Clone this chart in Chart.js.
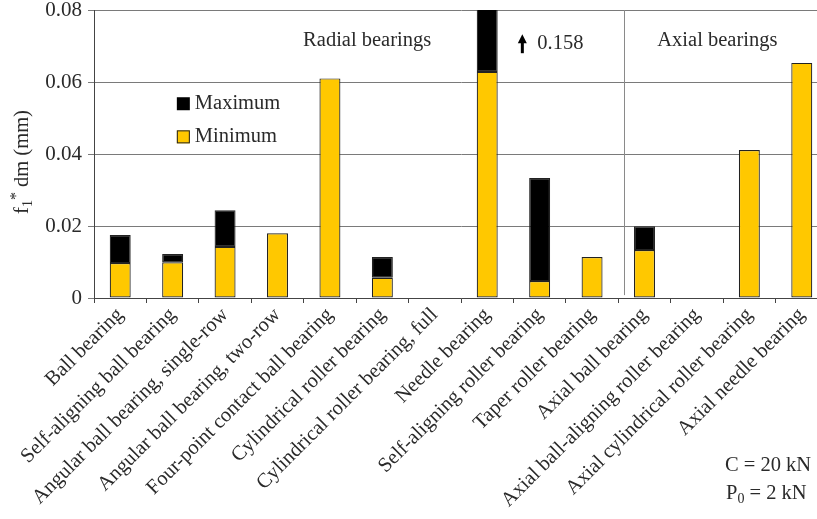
<!DOCTYPE html>
<html>
<head>
<meta charset="utf-8">
<script src="https://cdn.jsdelivr.net/npm/chart.js@4"></script>
<style>
  html, body { margin: 0; padding: 0; background: #fff; overflow: hidden; }
  #wrap { width: 817px; height: 519px; overflow: hidden; }
  canvas { display: block; }
</style>
</head>
<body>
<div id="wrap"><canvas id="c" width="828" height="519"></canvas></div>
<script>
// Bearing types
const categories = [
  'Ball bearing',
  'Self-aligning ball bearing',
  'Angular ball bearing, single-row',
  'Angular ball bearing, two-row',
  'Four-point contact ball bearing',
  'Cylindrical roller bearing',
  'Cylindrical roller bearing, full',
  'Needle bearing',
  'Self-aligning roller bearing',
  'Taper roller bearing',
  'Axial ball bearing',
  'Axial ball-aligning roller bearing',
  'Axial cylindrical roller bearing',
  'Axial needle bearing'
];
// f1* dm in mm (null = no value)
const minimum = [0.0097, 0.0099, 0.0142, 0.0180, 0.0610, 0.0056, null, 0.0628, 0.0047, 0.0114, 0.0133, null, 0.0411, 0.0653];
const maximum = [0.0175, 0.0122, 0.0244, null, null, 0.0114, null, 0.158, 0.0333, null, 0.0199, null, null, null];
const yTicks = [0, 0.02, 0.04, 0.06, 0.08];

const YELLOW = '#FFC800';
const EDGE = '#222222';
const TEXT = '#2a2a2a';
const SERIF = '"Liberation Serif", "DejaVu Serif", serif';
const FS = 20.5;

// Max segment drawn as a floating bar from the minimum up to the maximum
const maxRanges = maximum.map((m, i) => (m == null ? null : [minimum[i], m]));

const overlay = {
  id: 'overlay',
  afterDatasetsDraw(chart) {
    const { ctx, chartArea, scales } = chart;
    const x = scales.x, y = scales.y;
    ctx.save();
    // divider between radial and axial groups
    const xd = Math.round(x.getPixelForValue(9.61)) + 0.5;
    ctx.strokeStyle = '#8a8a8a';
    ctx.lineWidth = 1;
    ctx.beginPath();
    ctx.moveTo(xd, chartArea.top);
    ctx.lineTo(xd, y.getPixelForValue(0.0008));
    ctx.stroke();

    ctx.fillStyle = TEXT;
    ctx.font = FS + 'px ' + SERIF;
    ctx.textBaseline = 'middle';
    ctx.textAlign = 'center';
    ctx.fillText('Radial bearings', x.getPixelForValue(4.71), y.getPixelForValue(0.0716));
    ctx.fillText('Axial bearings', x.getPixelForValue(11.39), y.getPixelForValue(0.0716));

    // arrow for the clipped needle bearing maximum
    const ax = x.getPixelForValue(7.67), ay = y.getPixelForValue(0.0705);
    ctx.fillStyle = '#000';
    ctx.beginPath();
    ctx.moveTo(ax, ay - 10);
    ctx.lineTo(ax - 4.5, ay - 1);
    ctx.lineTo(ax + 4.5, ay - 1);
    ctx.closePath();
    ctx.fill();
    ctx.fillRect(ax - 1.5, ay - 2, 3, 11);
    ctx.fillStyle = TEXT;
    ctx.textAlign = 'left';
    ctx.fillText(String(maximum[7]), ax + 15, y.getPixelForValue(0.0706));

    // legend
    const lx = x.getPixelForValue(1.08), l1 = y.getPixelForValue(0.0541), l2 = y.getPixelForValue(0.0449);
    ctx.fillStyle = '#000';
    ctx.fillRect(lx, l1 - 6, 13, 13);
    ctx.fillStyle = YELLOW;
    ctx.fillRect(lx, l2 - 6, 13, 13);
    ctx.strokeStyle = EDGE;
    ctx.strokeRect(lx + 0.5, l2 - 5.5, 12, 12);
    ctx.fillStyle = TEXT;
    ctx.fillText('Maximum', lx + 18, l1);
    ctx.fillText('Minimum', lx + 18, l2);

    // y axis title: f1* dm (mm)
    ctx.translate(23, (chartArea.top + chartArea.bottom) / 2 + 8);
    ctx.rotate(-Math.PI / 2);
    ctx.textAlign = 'left';
    const parts = [['f', FS, 0], ['1', 14, 5], ['*', 16, -6], [' dm (mm)', FS, 0]];
    let total = 0;
    parts.forEach(p => { ctx.font = p[1] + 'px ' + SERIF; total += ctx.measureText(p[0]).width; });
    let px = -total / 2;
    parts.forEach(p => {
      ctx.font = p[1] + 'px ' + SERIF;
      ctx.fillText(p[0], px, p[2]);
      px += ctx.measureText(p[0]).width;
    });
    ctx.restore();

    // load notes, bottom right
    ctx.save();
    ctx.fillStyle = TEXT;
    ctx.textBaseline = 'middle';
    ctx.textAlign = 'left';
    ctx.font = FS + 'px ' + SERIF;
    const nx = 725;
    ctx.fillText('C = 20 kN', nx, 466);
    ctx.fillText('P', nx + 1, 494);
    let w = ctx.measureText('P').width;
    ctx.font = '14px ' + SERIF;
    ctx.fillText('0', nx + 1 + w, 499);
    w += ctx.measureText('0').width;
    ctx.font = FS + 'px ' + SERIF;
    ctx.fillText(' = 2 kN', nx + 1 + w, 494);
    ctx.restore();
  }
};

new Chart(document.getElementById('c'), {
  type: 'bar',
  data: {
    labels: categories,
    datasets: [
      {
        label: 'Minimum',
        data: minimum,
        backgroundColor: YELLOW,
        borderColor: EDGE,
        borderWidth: 1.2,
        borderSkipped: false,
        barPercentage: 0.4,
        categoryPercentage: 1,
        order: 2
      },
      {
        label: 'Maximum',
        data: maxRanges,
        backgroundColor: '#000000',
        borderColor: EDGE,
        borderWidth: 1.2,
        borderSkipped: false,
        barPercentage: 0.4,
        categoryPercentage: 1,
        order: 1
      }
    ]
  },
  options: {
    responsive: false,
    animation: false,
    devicePixelRatio: 1,
    layout: { padding: { top: 10, left: 0, right: 0, bottom: 0 } },
    plugins: { legend: { display: false }, tooltip: { enabled: false } },
    scales: {
      x: {
        stacked: true,
        grid: { display: true, drawOnChartArea: false, offset: true, color: '#444', tickLength: 5 },
        border: { color: '#444', width: 1 },
        ticks: {
          autoSkip: false,
          minRotation: 45,
          maxRotation: 45,
          padding: 0,
          color: TEXT,
          font: { family: SERIF, size: FS }
        },
        afterFit: s => { s.height = 221; s.paddingLeft = 0; s.paddingRight = 0; }
      },
      y: {
        stacked: false,
        min: 0,
        max: 0.08,
        afterBuildTicks: s => { s.ticks = yTicks.map(v => ({ value: v })); },
        grid: { color: '#7a7a7a', tickLength: 6, lineWidth: 1 },
        border: { color: '#444', width: 1 },
        ticks: {
          padding: 6,
          color: TEXT,
          font: { family: SERIF, size: 21 },
          callback: v => (v === 0 ? '0' : v.toFixed(2))
        },
        afterFit: s => { s.width = 94; s.paddingTop = 0; s.paddingBottom = 0; }
      }
    }
  },
  plugins: [overlay]
});
</script>
</body>
</html>
